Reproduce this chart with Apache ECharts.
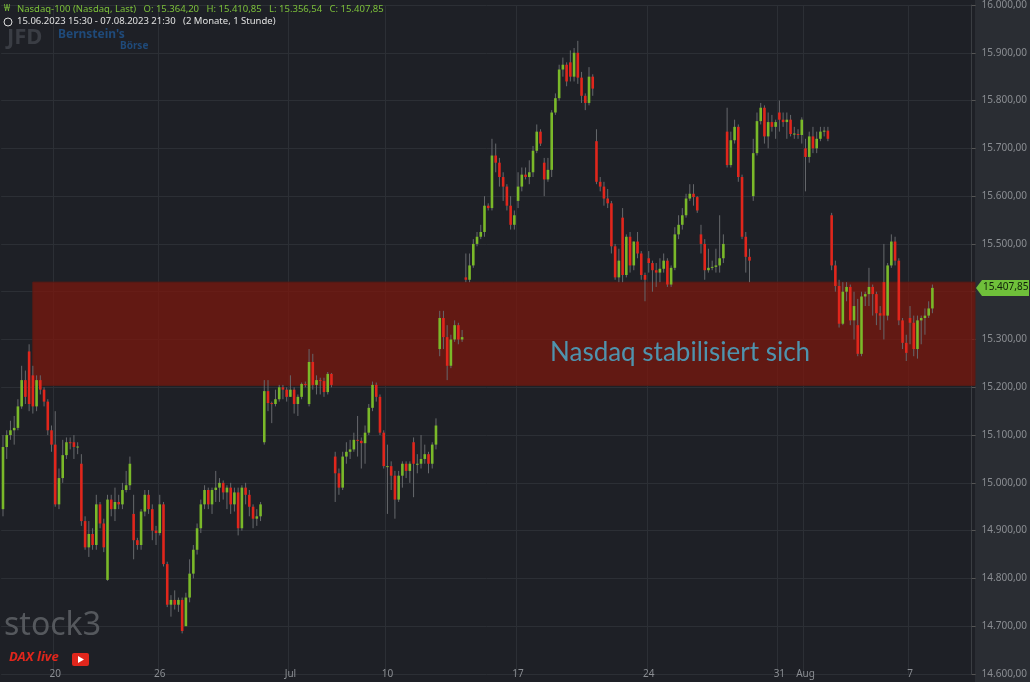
<!DOCTYPE html>
<html><head><meta charset="utf-8">
<script src="https://cdn.jsdelivr.net/npm/echarts@6/dist/echarts.min.js"></script>
<style>html,body{margin:0;padding:0;background:#1e2026;}#c{width:1030px;height:682px;}</style>
</head><body><div id="c"></div>
<script>
// [open, close, low, high] hourly candles, 15.06.2023 - 07.08.2023
const candles = [
[14945,15075,14930,15100],[15075,15100,15050,15110],[15100,15110,15090,15130],[15110,15115,15080,15140],[15115,15160,15110,15175],
[15160,15215,15155,15245],[15215,15180,15165,15235],[15275,15165,15150,15290],[15225,15160,15145,15245],[15160,15215,15150,15225],
[15215,15195,15185,15225],[15195,15170,15160,15200],[15170,15110,15100,15175],[15110,15080,15065,15120],[15080,14955,14950,15150],
[14955,15010,14945,15030],[15010,15058,15000,15090],[15058,15085,15050,15095],[15085,15083,15070,15095],[15085,15075,15050,15100],
[15075,15076,15060,15085],[15040,14920,14910,15060],[14920,14865,14860,14930],[14865,14893,14845,14920],[14893,14870,14860,14905],
[14870,14955,14860,14975],[14955,14915,14905,14960],[14915,14865,14855,14925],[14797,14965,14795,14975],[14965,14945,14930,14975],
[14945,14960,14920,14990],[14960,14955,14945,14975],[14955,14985,14945,15000],[14985,14995,14980,15025],[14995,15040,14985,15055],
[14935,14880,14840,14975],[14880,14870,14860,14885],[14870,14940,14860,14945],[14940,14975,14930,14985],[14975,14945,14935,14985],
[14945,14900,14880,14955],[14900,14895,14870,14910],[14895,14955,14890,14975],[14955,14830,14825,14960],[14830,14745,14740,14835],
[14745,14755,14720,14765],[14755,14745,14735,14775],[14745,14755,14730,14760],[14755,14690,14685,14760],[14700,14760,14720,14770],
[14760,14810,14750,14840],[14810,14860,14800,14870],[14860,14905,14850,14915],[14905,14955,14895,14965],[14955,14985,14945,14995],
[14985,14955,14945,14990],[14955,14985,14935,14990],[14985,14990,14960,15025],[14990,15000,14960,15010],[15000,14980,14965,15005],
[14980,14990,14945,14995],[14990,14955,14935,15000],[14955,14980,14940,14990],[14980,14905,14890,14990],[14905,14990,14900,14995],
[14990,14975,14955,15000],[14975,14950,14930,14985],[14950,14925,14905,14955],[14925,14930,14910,14945],[14930,14955,14920,14960],
[15085,15192,15080,15215],[15192,15167,15150,15215],[15167,15165,15125,15170],[15165,15175,15160,15195],[15175,15200,15170,15205],
[15200,15195,15175,15205],[15195,15180,15170,15200],[15180,15195,15180,15225],[15195,15165,15145,15200],[15165,15180,15140,15185],
[15180,15207,15175,15210],[15207,15205,15200,15212],[15165,15253,15160,15280],[15253,15205,15195,15270],[15205,15215,15185,15225],
[15215,15213,15185,15220],[15213,15190,15180,15220],[15190,15228,15185,15232],[15228,15205,15200,15230],[15055,15020,14960,15065],
[15020,14990,14975,15030],[14990,15055,14985,15065],[15055,15065,15040,15085],[15065,15070,15050,15090],[15070,15090,15065,15105],
[15090,15088,15055,15140],[15088,15083,15030,15095],[15083,15105,15040,15120],[15105,15157,15100,15165],[15157,15205,15150,15212],
[15205,15180,15170,15210],[15180,15105,15100,15185],[15105,15035,15030,15110],[15035,15035,14935,15080],[15035,15015,14985,15045],
[15015,14965,14925,15025],[14965,15015,14960,15025],[15015,15040,14990,15045],[15040,15025,15010,15045],[15025,15040,15000,15045],
[15085,15040,14970,15095],[15040,15040,15020,15060],[15040,15050,15030,15100],[15050,15060,15040,15080],[15060,15040,15020,15065],
[15040,15080,15030,15085],[15080,15120,15070,15135],[15280,15345,15265,15360],[15345,15305,15280,15360],[15305,15245,15215,15330],
[15245,15300,15240,15310],[15300,15330,15295,15340],[15330,15300,15290,15335],[15300,15305,15295,15320],[15430,15425,15420,15480],
[15425,15455,15420,15480],[15455,15500,15450,15510],[15500,15515,15495,15525],[15515,15525,15510,15540],[15525,15580,15515,15600],
[15580,15575,15570,15585],[15575,15685,15570,15720],[15685,15670,15650,15710],[15670,15640,15620,15680],[15640,15620,15590,15650],
[15620,15580,15570,15625],[15580,15540,15530,15600],[15540,15560,15530,15570],[15590,15620,15575,15650],[15620,15645,15610,15660],
[15645,15640,15635,15660],[15640,15650,15625,15675],[15650,15695,15640,15705],[15695,15735,15690,15750],[15735,15710,15705,15740],
[15670,15635,15600,15680],[15635,15655,15630,15680],[15655,15775,15640,15780],[15775,15805,15770,15815],[15805,15865,15800,15875],
[15865,15875,15850,15890],[15875,15840,15830,15880],[15880,15850,15840,15905],[15850,15900,15840,15910],[15900,15848,15835,15925],
[15848,15810,15795,15860],[15810,15795,15780,15815],[15795,15850,15790,15870],[15850,15825,15810,15855],[15715,15630,15625,15740],
[15630,15620,15610,15640],[15620,15595,15580,15630],[15595,15585,15575,15615],[15585,15495,15480,15590],[15495,15430,15425,15500],
[15430,15465,15420,15490],[15555,15435,15420,15575],[15435,15515,15430,15520],[15515,15455,15440,15525],[15455,15505,15445,15505],
[15505,15480,15470,15525],[15480,15435,15425,15485],[15435,15425,15380,15440],[15470,15460,15440,15485],[15460,15445,15400,15465],
[15445,15440,15410,15460],[15440,15448,15420,15470],[15448,15465,15440,15480],[15465,15415,15410,15470],[15415,15450,15410,15455],
[15450,15520,15445,15535],[15520,15540,15510,15560],[15540,15560,15530,15575],[15560,15595,15555,15605],[15595,15605,15590,15625],
[15605,15598,15580,15625],[15598,15570,15565,15600],[15520,15500,15480,15540],[15500,15445,15425,15510],[15445,15450,15440,15490],
[15450,15452,15445,15465],[15452,15455,15440,15490],[15455,15470,15440,15560],[15470,15500,15460,15520],[15735,15665,15660,15785],
[15665,15717,15660,15735],[15717,15745,15710,15760],[15745,15640,15630,15750],[15640,15515,15510,15645],[15515,15473,15440,15525],
[15473,15465,15420,15490],[15600,15690,15590,15720],[15690,15757,15685,15775],[15757,15785,15750,15795],[15785,15725,15710,15790],
[15725,15755,15700,15775],[15755,15745,15735,15770],[15745,15755,15720,15760],[15775,15760,15735,15800],[15760,15755,15745,15775],
[15755,15760,15720,15775],[15760,15730,15725,15770],[15730,15731,15720,15745],[15730,15728,15720,15740],[15728,15760,15710,15765],
[15700,15682,15610,15720],[15682,15725,15670,15735],[15725,15700,15690,15745],[15700,15720,15690,15735],[15720,15735,15715,15745],
[15735,15737,15725,15745],[15737,15720,15715,15745],[15560,15455,15445,15565],[15455,15412,15400,15465],[15412,15333,15325,15425],
[15333,15400,15330,15420],[15400,15410,15380,15420],[15410,15340,15330,15415],[15340,15370,15300,15400],[15330,15270,15265,15385],
[15270,15390,15265,15400],[15390,15395,15370,15400],[15395,15410,15370,15450],[15410,15395,15350,15415],[15395,15355,15330,15400],
[15355,15350,15320,15370],[15420,15350,15300,15500],[15350,15455,15340,15460],[15455,15505,15450,15520],[15505,15465,15455,15515],
[15465,15340,15330,15470],[15340,15293,15280,15345],[15293,15272,15255,15310],[15345,15335,15290,15370],[15335,15280,15265,15350],
[15280,15340,15260,15350],[15340,15345,15290,15350],[15345,15350,15310,15365],[15350,15365,15345,15380],[15365,15408,15355,15415]
];
const slotCount = 260;
const dateLabels = {14:'20',42:'26',77:'Jul',103:'10',138:'17',173:'24',208:'31',215:'Aug',243:'7'};
const zoneRange = [15204, 15420];
const zoneStart = 8;
const lastPrice = 15407.85;
const yTicks = [14600,16000,100];

const cats = Array.from({length:slotCount},(_,i)=>String(i));
function de(v){const s=Math.round(v*100);const i=Math.floor(s/100),f=String(s%100).padStart(2,'0');return String(i).replace(/\B(?=(\d{3})+(?!\d))/g,'.')+','+f;}

const chart = echarts.init(document.getElementById('c'));
const G = '#7ab929', R = '#e0261c';
const baseGraphic = [
    {type:'rect',right:0,top:0,shape:{width:55,height:682},style:{fill:'#2a2d33'},z:-1,silent:true},
    {type:'text',left:7,top:27,style:{text:'JFD',fill:'#3a3d44',font:'bold 22px Noto Sans'}},
    {type:'text',left:58,top:29,style:{text:"Bernstein's",fill:'#1f4a7a',font:'bold 12px Noto Sans'}},
    {type:'text',left:120,top:41,style:{text:'Börse',fill:'#1f4a7a',font:'bold 10px Noto Sans'}},
    {type:'text',left:4,top:4,style:{text:'₩',fill:'#7cc03a',font:'9px Noto Sans'}},
    {type:'text',left:17,top:4,style:{text:'Nasdaq-100 (Nasdaq, Last)   O: 15.364,20   H: 15.410,85   L: 15.356,54   C: 15.407,85',fill:'#7cc03a',font:'9.5px Noto Sans'}},
    {type:'circle',shape:{cx:8,cy:22,r:4},style:{fill:'none',stroke:'#ddd',lineWidth:1}},
    {type:'text',left:17,top:16,style:{text:'15.06.2023 15:30 - 07.08.2023 21:30   (2 Monate, 1 Stunde)',fill:'#e0e0e0',font:'9.5px Noto Sans'}},
    {type:'text',left:4,top:610,style:{text:'stock3',fill:'#55585d',font:'32px Noto Sans'}},
    {type:'text',left:9,top:651,style:{text:'DAX live',fill:'#e0261c',font:'italic bold 13px Noto Sans'}},
    {type:'rect',left:72,top:653,shape:{width:17,height:13,r:2},style:{fill:'#e0261c'}},
    {type:'polygon',shape:{points:[[78,656],[78,663],[84,659.5]]},style:{fill:'#fff'}},
    {type:'text',left:550,top:340,z:20,style:{text:'Nasdaq stabilisiert sich',fill:'#4f93ad',font:'26px Lato'}}
];
chart.setOption({
  backgroundColor:'#1e2026',
  animation:false,
  grid:{left:0,right:55,top:0,bottom:8},
  xAxis:{type:'category',data:cats,boundaryGap:true,
    axisLine:{show:false},axisTick:{show:false},
    axisLabel:{interval:0,margin:-5,color:'#8a8d92',fontSize:10,fontFamily:'Noto Sans',
      formatter:(v,i)=>dateLabels[i]||''},
    splitLine:{show:true,interval:(i)=>dateLabels[i]!==undefined,lineStyle:{color:'#2c2f35'}}},
  yAxis:{type:'value',position:'right',min:yTicks[0],max:yTicks[1],interval:yTicks[2],
    axisLine:{show:true,lineStyle:{color:'#3a3d42'}},axisTick:{show:true,length:4,lineStyle:{color:'#555'}},
    axisLabel:{color:'#8a8d92',fontSize:10,fontFamily:'Noto Sans',margin:10,formatter:de},
    splitLine:{lineStyle:{color:'#2c2f35'}}},
  graphic:baseGraphic,
  series:[{
    type:'custom',z:2,
    data:candles.map((c,i)=>[i,...c]),
    renderItem:(params,api)=>{
      const x=api.value(0),o=api.value(1),c=api.value(2),l=api.value(3),h=api.value(4);
      const pH=api.coord([x,h]),pL=api.coord([x,l]),pO=api.coord([x,o]),pC=api.coord([x,c]);
      const w=2.6,top=Math.min(pO[1],pC[1]),ht=Math.max(1,Math.abs(pO[1]-pC[1]));
      return {type:'group',children:[
        {type:'line',shape:{x1:pH[0],y1:pH[1],x2:pL[0],y2:pL[1]},style:{stroke:'#66686c',lineWidth:1}},
        {type:'rect',shape:{x:pH[0]-w/2,y:top,width:w,height:ht},style:{fill:c>=o?G:R}}
      ]};
    },
    encode:{x:0,y:[1,2,3,4]}
  },{
    type:'line',data:[],z:10,
    markArea:{silent:true,itemStyle:{color:'rgba(125,22,12,0.72)',borderColor:'#5a1a14',borderWidth:1},
      data:[[{xAxis:zoneStart,yAxis:zoneRange[1]},{x:975,yAxis:zoneRange[0]}]]}
  }]
});
const py = chart.convertToPixel({yAxisIndex:0},lastPrice);
chart.setOption({graphic:baseGraphic.concat([
  {type:'polygon',z:30,shape:{points:[[976,py],[982,py-8],[1029,py-8],[1029,py+8],[982,py+8]]},style:{fill:'#6fc03a'}},
  {type:'text',z:31,left:983,top:py-6,style:{text:de(lastPrice),fill:'#10200a',font:'10px Noto Sans'}}
])},{replaceMerge:['graphic']});
</script></body></html>
